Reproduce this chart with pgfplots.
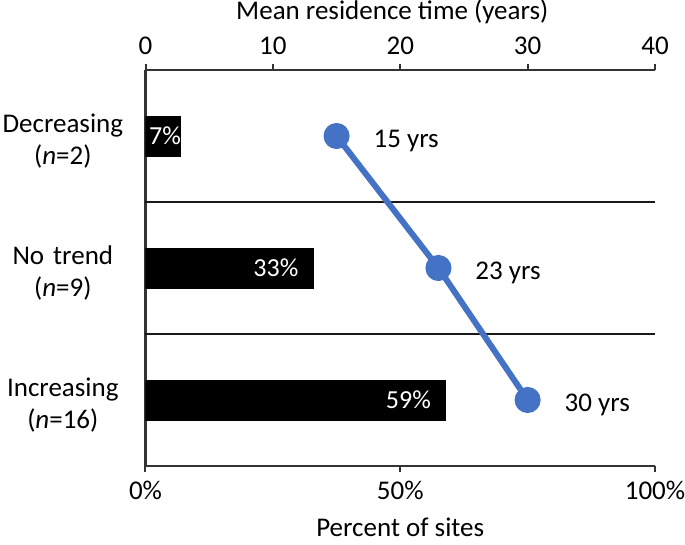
\documentclass[border=0pt]{standalone}
\usepackage{pgfplots}
\pgfplotsset{compat=1.18}
\usepackage{fontspec}
\setmainfont{Carlito}
\definecolor{lineblue}{HTML}{4472C4}
\definecolor{axgray}{HTML}{333333}
\newcommand{\bigf}{\fontsize{27}{32}\selectfont}
\begin{document}
\bigf
\begin{tikzpicture}
\path[use as bounding box] (-145.5pt,-78pt) rectangle (539.5pt,466pt);
\begin{axis}[
  at={(0pt,0pt)}, anchor=south west,
  scale only axis, width=509.5pt, height=396pt,
  xmin=0, xmax=100, ymin=0, ymax=3,
  axis x line*=bottom, axis y line*=left,
  axis line style={axgray, line width=2.5pt, -},
  xtick={0,50,100}, xticklabels={0\%,50\%,100\%},
  tick align=outside, major tick length=6pt,
  x tick style={axgray, line width=2pt},
  xticklabel style={font=\bigf},
  xlabel={Percent of sites},
  xlabel style={font=\bigf},
  ytick={0.5,1.5,2.5},
  yticklabels={{Increasing\\(\textit{n}=16)},{No trend\\(\textit{n}=9)},{Decreasing\\(\textit{n}=2)}},
  y tick style={draw=none},
  yticklabel style={text width=124pt, align=center, inner sep=0pt, xshift=-14.5pt, yshift=-5pt, font=\bigf},
  extra y ticks={1,2}, extra y tick labels={},
  extra y tick style={grid=major, major grid style={black!90, line width=2pt}, tick style={draw=none}},
  xbar, bar width=41pt, bar shift=0pt,
  point meta=x,
  nodes near coords={\pgfmathprintnumber[assume math mode=true]{\pgfplotspointmeta}\%},
  every node near coord/.append style={font=\fontsize{26}{30}\selectfont, color=white, anchor=base east, inner sep=0pt, yshift=-8pt},
]
\addplot[fill=black, draw=none, every node near coord/.append style={xshift=0pt}] coordinates {(7,2.5)};
\addplot[fill=black, draw=none, every node near coord/.append style={xshift=-15pt}] coordinates {(33,1.5)};
\addplot[fill=black, draw=none, every node near coord/.append style={xshift=-15pt}] coordinates {(59,0.5)};
\end{axis}
\begin{axis}[
  at={(0pt,0pt)}, anchor=south west,
  scale only axis, width=509.5pt, height=396pt,
  xmin=0, xmax=40, ymin=0, ymax=3,
  axis x line*=top, axis y line=none,
  axis line style={axgray, line width=2.5pt, -},
  xtick={0,10,20,30,40}, xticklabels={0,10,20,30,40},
  tick align=outside, major tick length=6pt,
  x tick style={axgray, line width=2pt},
  xticklabel style={font=\bigf},
  xlabel={Mean residence time (years)},
  xlabel style={font=\bigf, xshift=-8pt, yshift=-5pt},
  point meta=x,
  nodes near coords={\pgfmathprintnumber[assume math mode=true]{\pgfplotspointmeta} yrs},
  every node near coord/.append style={font=\bigf, color=black, anchor=base west, inner sep=0pt, xshift=34pt, yshift=-11pt},
]
\addplot[lineblue, line width=6pt, mark=*, mark size=10pt, mark options={fill=lineblue, draw=none}] coordinates {(15,2.5) (23,1.5) (30,0.5)};
\end{axis}
\end{tikzpicture}
\end{document}
